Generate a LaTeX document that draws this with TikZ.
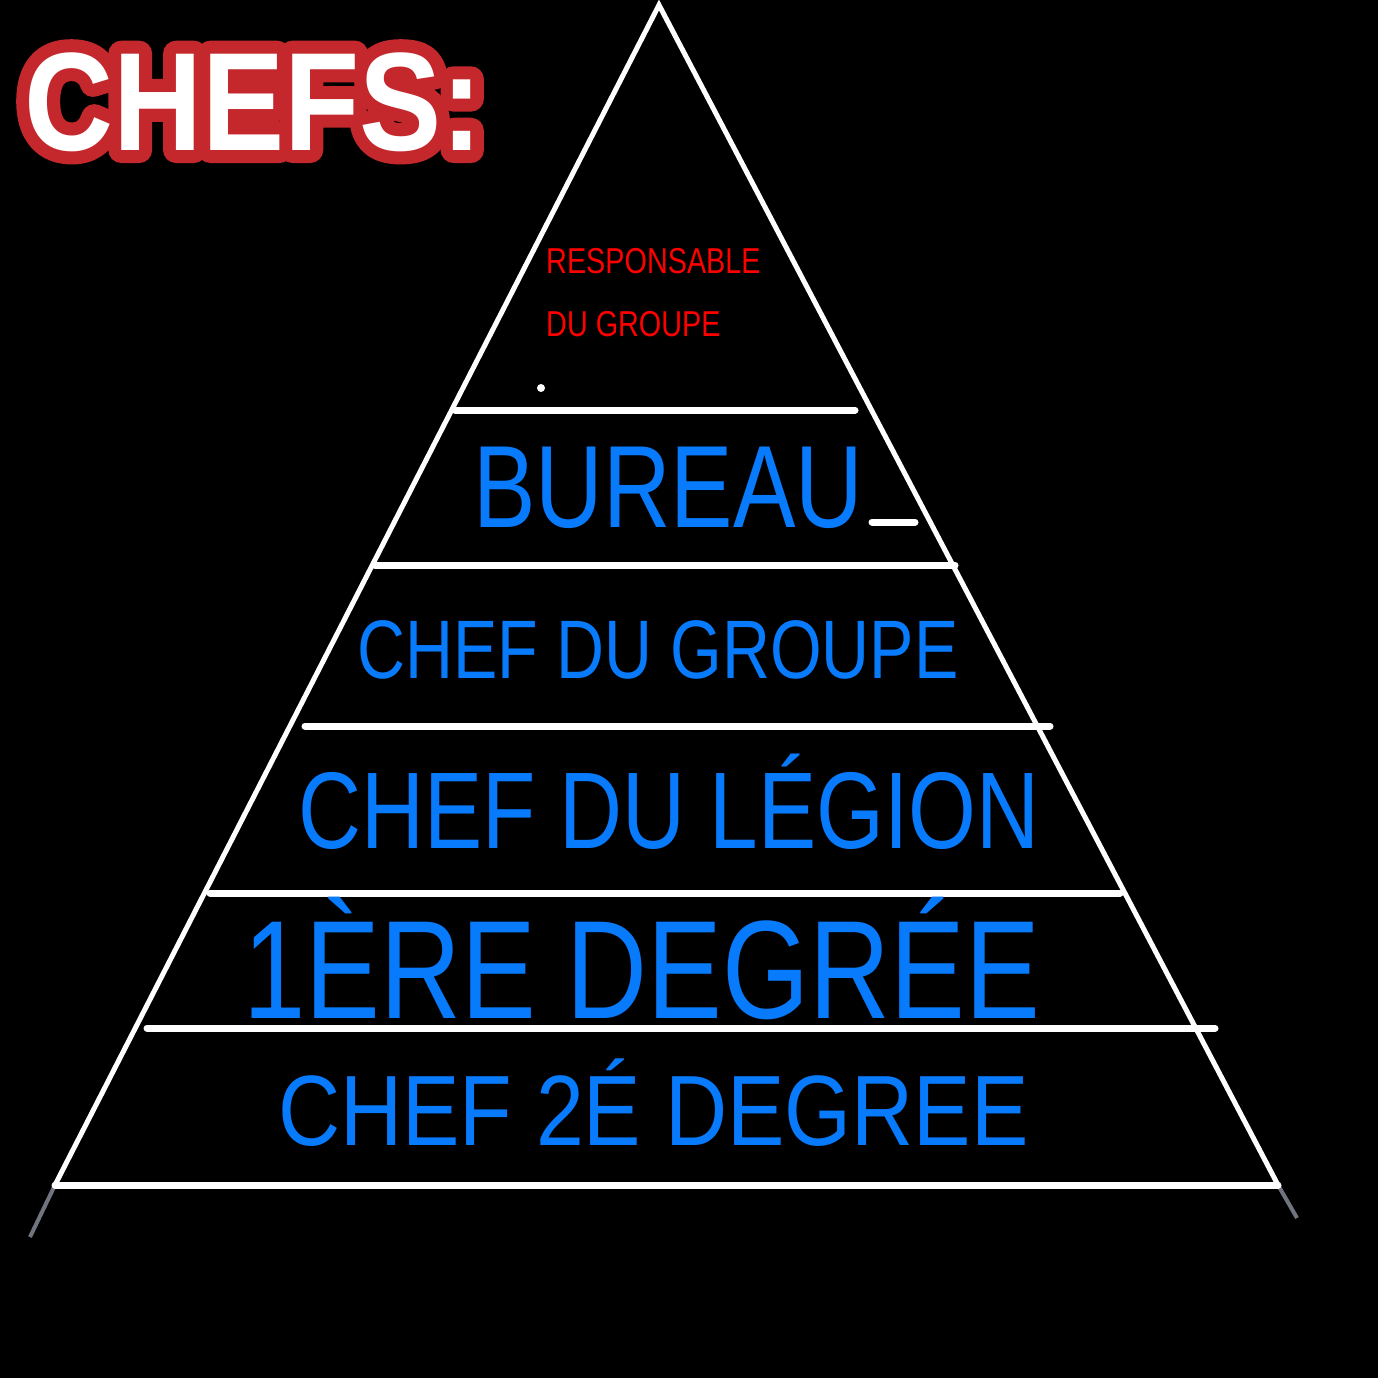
\documentclass[tikz,border=0pt]{standalone}
\usepackage{fontspec}
\setmainfont{Liberation Sans}
\newfontfamily\narrowfont[FakeStretch=0.8]{Liberation Sans}
\newfontfamily\wideform[FakeStretch=0.86]{Liberation Sans}
\newfontfamily\titlefont[FakeStretch=0.88]{Liberation Sans}
\definecolor{levelblue}{RGB}{8,122,252}
\definecolor{titlered}{RGB}{196,40,44}
\definecolor{tailgray}{RGB}{112,116,126}

\begin{document}
\begin{tikzpicture}[x=1pt,y=-1pt,
	side/.style={draw=white,line width=5pt},
	floor/.style={draw=white,line width=7pt,line cap=round},
	tail/.style={draw=tailgray,line width=4pt},
	title/.style={anchor=base west,inner sep=0pt,font=\titlefont\bfseries\fontsize{140}{140}\selectfont},
	level/.style={anchor=base west,inner sep=0pt,text=levelblue},
	top/.style={anchor=base west,inner sep=0pt,text=red,font=\narrowfont\fontsize{36}{36}\selectfont}]
	\fill[black] (0,0) rectangle (1378,1378);
	% pyramid
	\coordinate (apex) at (659,5);
	\coordinate (bl) at (55,1185);
	\coordinate (br) at (1278,1185);
	\draw[side] (bl) -- (apex) -- (br);
	\draw[tail] (bl) -- (30,1237);
	\draw[tail] (br) -- (1297,1218);
	\draw[floor] (455,410) -- (855,410);
	\draw[floor] (375,565) -- (955,565);
	\draw[floor] (305,726) -- (1050,726);
	\draw[floor] (210,893) -- (1120,893);
	\draw[floor] (147,1028) -- (1215,1028);
	\draw[floor] (55,1185) -- (1278,1185);
	\draw[floor] (872,522) -- (915,522);
	\fill[white] (541,388) circle (4);
	% title, red outline drawn as stroked text under the white one
	\node[title,text=titlered] (chefsback) at (24,150) {\special{pdf:code q 2 Tr 1 j 26 w 0.769 0.157 0.173 RG}CHEFS:\special{pdf:code Q}};
	\node[title,text=white] (chefs) at (24,150) {CHEFS:};
	% levels
	\node[top] (resp) at (546,273) {RESPONSABLE};
	\node[top] (dugroupe) at (546,336) {DU GROUPE};
	\node[level,font=\narrowfont\fontsize{117}{117}\selectfont] (bureau) at (473,527) {BUREAU};
	\node[level,font=\narrowfont\fontsize{83}{83}\selectfont] (chefgroupe) at (357,678) {CHEF DU GROUPE};
	\node[level,font=\narrowfont\fontsize{109}{109}\selectfont] (chefligion) at (298,848) {CHEF DU LÉGION};
	\node[level,font=\narrowfont\fontsize{140}{140}\selectfont] (premier) at (243,1018) {1ÈRE DEGRÉE};
	\node[level,font=\wideform\fontsize{100}{100}\selectfont] (second) at (278,1145) {CHEF 2É DEGREE};
\end{tikzpicture}
\end{document}
